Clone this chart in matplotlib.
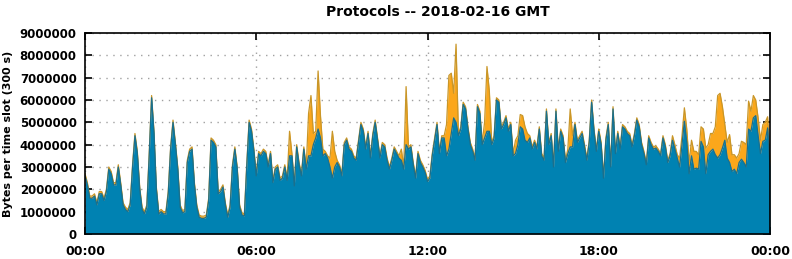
import numpy as np
import matplotlib
matplotlib.use("agg")
from matplotlib import pyplot as plt
from matplotlib.ticker import FixedLocator

TITLE = "Protocols -- 2018-02-16 GMT"
YLABEL = "Bytes per time slot (300 s)"
SLOT = 300  # seconds per time slot

# Lower layer (blue), millions of bytes per slot, one value every 5 minutes
blue = [
    2.6, 2.2, 1.6, 1.6, 1.7, 1.3, 1.8, 1.8, 1.5, 1.9, 2.9, 2.7, 2.2, 2.2, 3.0, 2.2,
    1.3, 1.1, 1.0, 1.3, 3.0, 4.4, 3.6, 2.0, 1.1, 0.9, 1.2, 3.5, 6.1, 4.5, 2.0, 0.9,
    1.0, 0.9, 0.9, 1.8, 3.8, 5.0, 4.0, 2.9, 1.2, 0.95, 1.0, 3.2, 3.7, 3.8, 2.2, 1.2,
    0.75, 0.7, 0.7, 0.75, 1.5, 4.2, 4.1, 3.9, 1.8, 1.9, 2.1, 1.3, 0.75, 1.2, 3.0, 3.8,
    2.9, 1.2, 0.85, 0.8, 3.0, 5.0, 4.6, 3.7, 2.6, 3.6, 3.5, 3.7, 3.6, 3.0, 3.6, 2.3,
    2.9, 3.0, 2.4, 2.5, 3.0, 2.4, 3.5, 3.5, 2.15, 3.9, 3.1, 2.6, 3.8, 2.9, 3.5, 3.5,
    4.0, 4.3, 4.7, 4.3, 3.5, 3.6, 3.4, 3.0, 2.5, 3.0, 3.2, 3.0, 2.6, 4.0, 4.2, 3.8,
    3.7, 3.4, 3.3, 4.1, 4.9, 4.6, 3.8, 4.5, 3.4, 4.4, 5.0, 4.2, 3.4, 4.0, 3.9, 3.3,
    2.9, 3.3, 3.8, 3.6, 3.4, 3.3, 2.9, 4.0, 3.8, 3.9, 3.1, 2.5, 3.6, 3.2, 3.0, 2.75,
    2.35, 2.5, 3.5, 4.2, 4.9, 3.6, 4.3, 4.3, 3.5, 3.8, 4.5, 5.2, 5.0, 4.4, 4.7, 5.8,
    5.6, 4.7, 4.0, 3.7, 3.3, 5.7, 5.4, 4.0, 4.3, 4.6, 4.6, 4.0, 4.3, 6.0, 5.9, 4.7,
    4.9, 5.2, 4.6, 4.9, 3.5, 3.6, 4.0, 4.8, 4.7, 4.2, 4.1, 4.3, 3.8, 4.1, 3.8, 4.7,
    3.5, 3.3, 5.5, 4.0, 4.4, 3.0, 5.5, 3.7, 4.6, 4.3, 3.2, 3.6, 3.9, 3.9, 4.9, 4.1,
    4.3, 4.5, 3.9, 3.3, 4.1, 5.9, 4.6, 3.7, 4.6, 4.0, 2.5, 4.2, 4.9, 3.0, 5.6, 3.6,
    4.5, 3.8, 4.8, 4.7, 4.5, 4.4, 3.9, 4.4, 5.1, 4.8, 4.0, 3.6, 3.1, 4.3, 4.0, 3.8,
    3.85, 3.7, 3.5, 4.3, 3.9, 3.2, 3.5, 4.2, 3.8, 3.4, 3.0, 4.0, 5.05, 4.1, 2.7, 3.5,
    2.9, 2.95, 2.9, 4.15, 3.9, 2.7, 3.55, 3.7, 3.8, 3.55, 3.4, 3.55, 3.85, 4.2, 3.4, 3.2,
    2.8, 2.9, 2.7, 3.2, 3.35, 3.2, 3.0, 4.7, 4.6, 5.2, 5.3, 4.4, 3.6, 4.15, 4.2, 4.75,
    3.0,
]

# Upper layer (orange), stacked on the blue one, millions of bytes per slot
orange = [0.1] * 289
orange_peaks = {
    86: 1.1, 94: 1.9, 95: 2.7, 96: 0.5, 97: 0.3, 98: 2.6, 99: 1.0, 100: 0.3,
    103: 0.4, 104: 2.1, 105: 0.7, 133: 0.5, 135: 2.6,
    152: 1.4, 153: 3.3, 154: 2.7, 155: 1.1, 156: 3.5, 168: 0.7, 169: 2.9, 170: 1.8,
    181: 0.6, 182: 0.4, 183: 0.55, 184: 0.6, 185: 0.6, 186: 0.4,
    203: 0.2, 204: 1.7, 205: 0.5, 247: 0.2, 248: 0.2, 249: 0.15, 250: 0.4,
    251: 0.4, 252: 0.6, 253: 0.6, 254: 0.5, 255: 0.7, 256: 0.8, 257: 0.75, 258: 0.65,
    259: 0.65, 260: 0.8, 261: 1.15, 262: 0.45, 263: 0.8, 264: 0.7, 265: 1.25, 266: 2.8,
    267: 2.75, 268: 1.85, 269: 0.7, 270: 0.7, 271: 1.25, 272: 0.75, 273: 0.65, 274: 0.7,
    275: 0.4, 276: 0.8, 277: 0.9, 278: 1.0, 279: 1.25, 280: 0.9, 281: 1.0, 282: 0.7,
    283: 0.8, 284: 0.6, 285: 0.75, 286: 0.8, 287: 0.5, 288: 0.3,
}
for k, v in orange_peaks.items():
    orange[k] = v

y_ticks = [0, 1000000, 2000000, 3000000, 4000000, 5000000, 6000000, 7000000, 8000000, 9000000]
x_tick_labels = ["00:00", "06:00", "12:00", "18:00", "00:00"]

plt.rcParams["font.family"] = ["DejaVu Sans"]
plt.rcParams["font.weight"] = "bold"

t = np.arange(len(blue)) * SLOT
low = np.array(blue) * 1e6
high = low + np.array(orange) * 1e6

fig = plt.figure(figsize=(7.92, 2.59), dpi=100)
ax = fig.add_axes((85 / 792, 1 - 234 / 259, 685 / 792, 201 / 259))

ax.fill_between(t, low, high, color="#fba71b", lw=0, zorder=2)
ax.plot(t, high, color="#c99628", lw=0.9, zorder=3)
ax.fill_between(t, 0, low, color="#0082b2", lw=0, zorder=4)
ax.plot(t, low, color="#1b6f8c", lw=0.9, zorder=5)

ax.set_xlim(0, 86400)
ax.set_ylim(0, 9000000)
ax.xaxis.set_major_locator(FixedLocator([0, 21600, 43200, 64800, 86400]))
ax.set_xticklabels(x_tick_labels)
ax.yaxis.set_major_locator(FixedLocator(y_ticks))
ax.set_yticklabels([str(v) for v in y_ticks])

ax.grid(True, color="#a0a0a0", linestyle=(0, (1, 4)), lw=1.0, zorder=1)
ax.set_axisbelow(True)
ax.tick_params(direction="in", length=5, width=1.2,
               top=True, right=True, color="black")
ax.tick_params(axis="y", pad=6, labelsize=8.5)
ax.tick_params(axis="x", pad=8, labelsize=9)
for s in ax.spines.values():
    s.set_linewidth(1.2)
    s.set_zorder(6)

ax.set_title(TITLE, fontsize=10, fontweight="bold", pad=12, x=0.515)
ax.set_ylabel(YLABEL, fontsize=8, fontweight="bold", labelpad=5)

fig.savefig("out.png", dpi=100)
